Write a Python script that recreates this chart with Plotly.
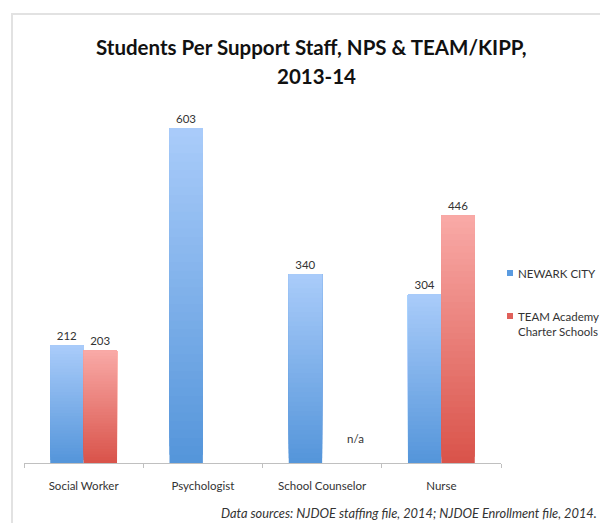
import plotly.graph_objects as go

categories = ["Social Worker", "Psychologist", "School Counselor", "Nurse"]
newark_city = [212, 603, 340, 304]
team_academy = [203, None, None, 446]
series_names = ["NEWARK CITY", "TEAM Academy<br>Charter Schools"]

# style
FONT = "Lato, 'Open Sans', sans-serif"
BLUE_TOP, BLUE_BOT = (170, 204, 250), (84, 149, 218)
RED_TOP, RED_BOT = (249, 170, 167), (217, 83, 74)
N = 40

W, H = 600, 523
L, R, T, B = 24, 99, 102, 60
PW, PH = W - L - R, H - T - B


def px(x):
    return (x - L) / PW


def py(y):
    return (H - B - y) / PH


def lerp(a, b, t):
    return "rgb(%d,%d,%d)" % tuple(round(a[i] + (b[i] - a[i]) * t) for i in range(3))


fig = go.Figure()
for name, vals, top, bot, grp in [
    ("NEWARK CITY", newark_city, BLUE_TOP, BLUE_BOT, "a"),
    ("TEAM", team_academy, RED_TOP, RED_BOT, "b"),
]:
    for k in range(N):
        # each layer spans from its fraction of the bar up to the full value;
        # later layers overlap earlier ones, giving a seamless vertical gradient
        base = [None if v is None else v * k / N for v in vals]
        seg = [None if v is None else v - v * k / N for v in vals]
        last = k == N - 1
        fig.add_trace(go.Bar(
            x=categories, y=seg, base=base, offsetgroup=grp,
            marker=dict(color=lerp(bot, top, (k + 0.5) / N), line=dict(width=0)),
            text=[("" if v is None else str(v)) for v in vals] if last else None,
            textposition="outside" if last else "none",
            textfont=dict(family=FONT, size=11.5, color="#333333"),
            cliponaxis=False, showlegend=False, hoverinfo="skip",
        ))

fig.update_layout(
    width=W, height=H, margin=dict(l=L, r=R, t=T, b=B),
    paper_bgcolor="white", plot_bgcolor="white",
    barmode="group", bargap=0.44, bargroupgap=0,
    showlegend=False,
    xaxis=dict(
        showline=True, linecolor="#c0c0c0", linewidth=1,
        ticks="outside", tickson="boundaries", ticklen=4, tickcolor="#c0c0c0",
        ticklabelstandoff=12,
        tickfont=dict(family=FONT, size=11.5, color="#333333"),
        showgrid=False, zeroline=False,
    ),
    yaxis=dict(visible=False, range=[0, 650]),
)

# title
fig.add_annotation(text="<b>Students Per Support Staff, NPS & TEAM/KIPP,</b>",
                   xref="paper", yref="paper", x=px(311), y=py(47), yanchor="middle",
                   showarrow=False, font=dict(family=FONT, size=20.5, color="#111111"))
fig.add_annotation(text="<b>2013-14</b>",
                   xref="paper", yref="paper", x=px(316), y=py(76), yanchor="middle",
                   showarrow=False, font=dict(family=FONT, size=20.5, color="#111111"))

# n/a
fig.add_annotation(text="n/a", x="School Counselor", y=45, xshift=33, showarrow=False,
                   font=dict(family=FONT, size=11.5, color="#333333"))

# legend
for (yc, col, label) in [(273, "rgb(90,155,224)", series_names[0]),
                         (316, "rgb(224,96,90)", series_names[1])]:
    fig.add_shape(type="rect", xref="paper", yref="paper",
                  x0=px(507), x1=px(513), y0=py(yc + 3), y1=py(yc - 3),
                  fillcolor=col, line=dict(width=0))
    fig.add_annotation(text=label, xref="paper", yref="paper", x=px(516), y=py(yc - 8),
                       xanchor="left", yanchor="top", align="left", showarrow=False,
                       font=dict(family=FONT, size=11.5, color="#333333"))

# footer
fig.add_annotation(text="<i>Data sources: NJDOE staffing file, 2014; NJDOE Enrollment file, 2014.</i>",
                   xref="paper", yref="paper", x=px(599), y=py(513), xanchor="right",
                   yanchor="middle", showarrow=False,
                   font=dict(family=FONT, size=12.8, color="#333333"))

# frame
fig.add_shape(type="path", xref="paper", yref="paper",
              path="M %f %f L %f %f L %f %f" % (px(12), py(530), px(12), py(14), px(610), py(14)),
              line=dict(color="#e2e2e2", width=2))

fig.write_html(
    "out.html",
    config={"displayModeBar": False},
    post_script="document.body.style.margin='0';document.body.style.overflow='hidden';",
)
